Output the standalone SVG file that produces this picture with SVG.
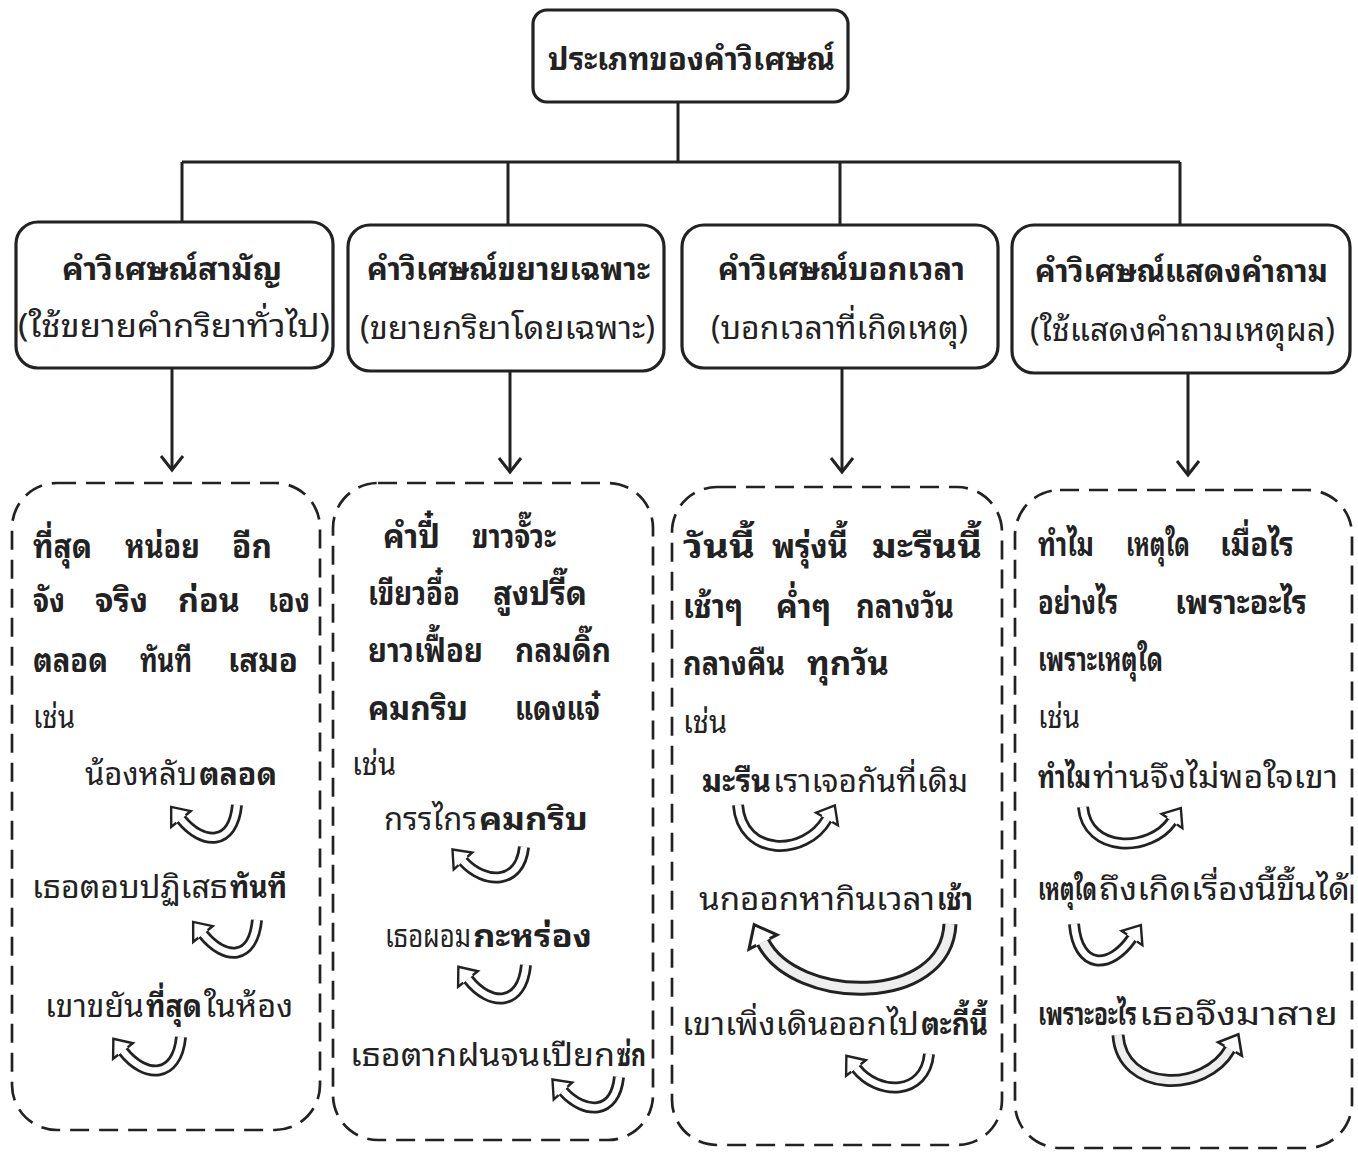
<svg xmlns="http://www.w3.org/2000/svg" width="1358" height="1157" viewBox="0 0 1358 1157">
<style>
.box{fill:#fff;stroke:#222;stroke-width:3.2}
.dbox{fill:none;stroke:#222;stroke-width:2.7;stroke-dasharray:19 10}
.conn{fill:none;stroke:#222;stroke-width:3}
.t{font-family:"Noto Sans Thai Looped","Noto Sans Thai","Noto Sans","DejaVu Sans",sans-serif;fill:#222}
.h{font-size:32px;font-weight:bold}
.s{font-size:32px}
.w{font-size:33px;font-weight:bold}
.r{font-size:31px}
.b{font-weight:bold}
.ao{fill:none;stroke:#222;stroke-width:12}
.ai{fill:none;stroke:#fff;stroke-width:6.5}
.big .ao{stroke-width:15}
.big .ai{stroke-width:9;stroke:#eee}
</style>
<defs>
<marker id="ah" markerUnits="userSpaceOnUse" markerWidth="30" markerHeight="30" refX="0" refY="0" orient="auto" overflow="visible">
<path d="M-14,-11 L0,0 L-14,11" fill="none" stroke="#222" stroke-width="3"/>
</marker>
<marker id="bh" markerUnits="strokeWidth" markerWidth="3" markerHeight="3" refX="0" refY="0" orient="auto" overflow="visible">
<path d="M0,-0.5 L0,-1.05 L1.3,0 L0,1.05 L0,0.5" fill="#fff" stroke="#222" stroke-width="0.2" stroke-linejoin="miter"/>
</marker>
</defs>

<g id="connectors">
<path class="conn" d="M678,102 V162 M182,162 H1180 M182,162 V222 M508,162 V225 M840,162 V225 M1180,162 V225"/>
<path class="conn" d="M172,368 V470" marker-end="url(#ah)"/>
<path class="conn" d="M510,371 V472" marker-end="url(#ah)"/>
<path class="conn" d="M842,368 V472" marker-end="url(#ah)"/>
<path class="conn" d="M1188,373 V475" marker-end="url(#ah)"/>
</g>

<g id="root">
<rect class="box" x="533" y="10" width="315" height="92" rx="14"/>
<text class="t h" x="548" y="70" textLength="287" lengthAdjust="spacingAndGlyphs">ประเภทของคำวิเศษณ์</text>
</g>

<g id="cat1">
<rect class="box" x="16" y="222" width="317" height="146" rx="22"/>
<text class="t h" x="62" y="280" textLength="220" lengthAdjust="spacingAndGlyphs">คำวิเศษณ์สามัญ</text>
<text class="t s" x="18" y="337" textLength="312" lengthAdjust="spacingAndGlyphs">(ใช้ขยายคำกริยาทั่วไป)</text>
</g>
<g id="cat2">
<rect class="box" x="348" y="225" width="316" height="146" rx="22"/>
<text class="t h" x="367" y="280" textLength="283" lengthAdjust="spacingAndGlyphs">คำวิเศษณ์ขยายเฉพาะ</text>
<text class="t s" x="360" y="339" textLength="295" lengthAdjust="spacingAndGlyphs">(ขยายกริยาโดยเฉพาะ)</text>
</g>
<g id="cat3">
<rect class="box" x="682" y="225" width="316" height="143" rx="22"/>
<text class="t h" x="718" y="280" textLength="247" lengthAdjust="spacingAndGlyphs">คำวิเศษณ์บอกเวลา</text>
<text class="t s" x="711" y="339" textLength="257" lengthAdjust="spacingAndGlyphs">(บอกเวลาที่เกิดเหตุ)</text>
</g>
<g id="cat4">
<rect class="box" x="1012" y="225" width="338" height="148" rx="22"/>
<text class="t h" x="1035" y="282" textLength="293" lengthAdjust="spacingAndGlyphs">คำวิเศษณ์แสดงคำถาม</text>
<text class="t s" x="1030" y="341" textLength="305" lengthAdjust="spacingAndGlyphs">(ใช้แสดงคำถามเหตุผล)</text>
</g>

<g id="ex1">
<rect class="dbox" x="12" y="483" width="308" height="647" rx="45"/>
<text class="t w" x="33" y="558" textLength="59" lengthAdjust="spacingAndGlyphs">ที่สุด</text>
<text class="t w" x="125" y="558" textLength="75" lengthAdjust="spacingAndGlyphs">หน่อย</text>
<text class="t w" x="232" y="558" textLength="40" lengthAdjust="spacingAndGlyphs">อีก</text>
<text class="t w" x="33" y="612" textLength="32" lengthAdjust="spacingAndGlyphs">จัง</text>
<text class="t w" x="95" y="612" textLength="53" lengthAdjust="spacingAndGlyphs">จริง</text>
<text class="t w" x="178" y="612" textLength="62" lengthAdjust="spacingAndGlyphs">ก่อน</text>
<text class="t w" x="268" y="612" textLength="42" lengthAdjust="spacingAndGlyphs">เอง</text>
<text class="t w" x="33" y="672" textLength="75" lengthAdjust="spacingAndGlyphs">ตลอด</text>
<text class="t w" x="140" y="672" textLength="52" lengthAdjust="spacingAndGlyphs">ทันที</text>
<text class="t w" x="228" y="672" textLength="70" lengthAdjust="spacingAndGlyphs">เสมอ</text>
<text class="t r" x="33" y="728" textLength="42" lengthAdjust="spacingAndGlyphs">เช่น</text>
<text class="t r" y="785"><tspan x="85" textLength="112" lengthAdjust="spacingAndGlyphs">น้องหลับ</tspan><tspan class="b" x="199" textLength="78" lengthAdjust="spacingAndGlyphs">ตลอด</tspan></text>
<g><path class="ao" d="M237,805 C233,846 203,846 181,819" marker-end="url(#bh)"/><path class="ai" d="M237,805 C233,846 203,846 181,819"/></g>
<text class="t r" y="898"><tspan x="32" textLength="196" lengthAdjust="spacingAndGlyphs">เธอตอบปฏิเสธ</tspan><tspan class="b" x="230" textLength="57" lengthAdjust="spacingAndGlyphs">ทันที</tspan></text>
<g><path class="ao" d="M257,920 C253,961 225,961 203,934" marker-end="url(#bh)"/><path class="ai" d="M257,920 C253,961 225,961 203,934"/></g>
<text class="t r" y="1017"><tspan x="45" textLength="99" lengthAdjust="spacingAndGlyphs">เขาขยัน</tspan><tspan class="b" x="146" textLength="56" lengthAdjust="spacingAndGlyphs">ที่สุด</tspan><tspan x="204" textLength="89" lengthAdjust="spacingAndGlyphs">ในห้อง</tspan></text>
<g><path class="ao" d="M181,1037 C177,1079 145,1079 123,1051" marker-end="url(#bh)"/><path class="ai" d="M181,1037 C177,1079 145,1079 123,1051"/></g>
</g>

<g id="ex2">
<rect class="dbox" x="333" y="483" width="320" height="657" rx="45"/>
<text class="t w" x="383" y="548" textLength="57" lengthAdjust="spacingAndGlyphs">คำปี๋</text>
<text class="t w" x="472" y="548" textLength="84" lengthAdjust="spacingAndGlyphs">ขาวจั๊วะ</text>
<text class="t w" x="368" y="605" textLength="92" lengthAdjust="spacingAndGlyphs">เขียวอื๋อ</text>
<text class="t w" x="493" y="605" textLength="94" lengthAdjust="spacingAndGlyphs">สูงปรี๊ด</text>
<text class="t w" x="368" y="662" textLength="115" lengthAdjust="spacingAndGlyphs">ยาวเฟื้อย</text>
<text class="t w" x="515" y="662" textLength="96" lengthAdjust="spacingAndGlyphs">กลมดิ๊ก</text>
<text class="t w" x="368" y="720" textLength="100" lengthAdjust="spacingAndGlyphs">คมกริบ</text>
<text class="t w" x="515" y="720" textLength="85" lengthAdjust="spacingAndGlyphs">แดงแจ๋</text>
<text class="t r" x="352" y="775" textLength="44" lengthAdjust="spacingAndGlyphs">เช่น</text>
<text class="t r" y="830"><tspan x="384" textLength="93" lengthAdjust="spacingAndGlyphs">กรรไกร</tspan><tspan class="b" x="479" textLength="109" lengthAdjust="spacingAndGlyphs">คมกริบ</tspan></text>
<g><path class="ao" d="M524,847 C520,885 485,885 463,861" marker-end="url(#bh)"/><path class="ai" d="M524,847 C520,885 485,885 463,861"/></g>
<text class="t r" y="947"><tspan x="385" textLength="86" lengthAdjust="spacingAndGlyphs">เธอผอม</tspan><tspan class="b" x="473" textLength="119" lengthAdjust="spacingAndGlyphs">กะหร่อง</tspan></text>
<g><path class="ao" d="M526,965 C522,1007 490,1007 468,979" marker-end="url(#bh)"/><path class="ai" d="M526,965 C522,1007 490,1007 468,979"/></g>
<text class="t r" y="1066"><tspan x="350" textLength="265" lengthAdjust="spacingAndGlyphs">เธอตากฝนจนเปียก</tspan><tspan class="b" x="617" textLength="29" lengthAdjust="spacingAndGlyphs">ซ่ก</tspan></text>
<g><path class="ao" d="M619,1077 C615,1115 585,1115 563,1091" marker-end="url(#bh)"/><path class="ai" d="M619,1077 C615,1115 585,1115 563,1091"/></g>
</g>

<g id="ex3">
<rect class="dbox" x="672" y="487" width="330" height="658" rx="45"/>
<text class="t w" x="683" y="558" textLength="72" lengthAdjust="spacingAndGlyphs">วันนี้</text>
<text class="t w" x="772" y="558" textLength="76" lengthAdjust="spacingAndGlyphs">พรุ่งนี้</text>
<text class="t w" x="872" y="558" textLength="110" lengthAdjust="spacingAndGlyphs">มะรืนนี้</text>
<text class="t w" x="683" y="618" textLength="60" lengthAdjust="spacingAndGlyphs">เช้าๆ</text>
<text class="t w" x="776" y="618" textLength="55" lengthAdjust="spacingAndGlyphs">ค่ำๆ</text>
<text class="t w" x="856" y="618" textLength="98" lengthAdjust="spacingAndGlyphs">กลางวัน</text>
<text class="t w" x="683" y="675" textLength="102" lengthAdjust="spacingAndGlyphs">กลางคืน</text>
<text class="t w" x="807" y="675" textLength="82" lengthAdjust="spacingAndGlyphs">ทุกวัน</text>
<text class="t r" x="683" y="733" textLength="44" lengthAdjust="spacingAndGlyphs">เช่น</text>
<text class="t r" y="792"><tspan class="b" x="702" textLength="69" lengthAdjust="spacingAndGlyphs">มะรืน</tspan><tspan x="773" textLength="195" lengthAdjust="spacingAndGlyphs">เราเจอกันที่เดิม</tspan></text>
<g><path class="ao" d="M738,805 C742,857 805,857 827,819" marker-end="url(#bh)"/><path class="ai" d="M738,805 C742,857 805,857 827,819"/></g>
<text class="t r" y="910"><tspan x="699" textLength="236" lengthAdjust="spacingAndGlyphs">นกออกหากินเวลา</tspan><tspan class="b" x="937" textLength="36" lengthAdjust="spacingAndGlyphs">เช้า</tspan></text>
<g class="big"><path class="ao" d="M950,924 C946,1008 795,1005 763,942" marker-end="url(#bh)"/><path class="ai" d="M950,924 C946,1008 795,1005 763,942"/></g>
<text class="t r" y="1035"><tspan x="682" textLength="237" lengthAdjust="spacingAndGlyphs">เขาเพิ่งเดินออกไป</tspan><tspan class="b" x="921" textLength="67" lengthAdjust="spacingAndGlyphs">ตะกี้นี้</tspan></text>
<g><path class="ao" d="M929,1054 C925,1096 878,1096 856,1068" marker-end="url(#bh)"/><path class="ai" d="M929,1054 C925,1096 878,1096 856,1068"/></g>
</g>

<g id="ex4">
<rect class="dbox" x="1015" y="490" width="337" height="658" rx="45"/>
<text class="t w" x="1038" y="556" textLength="56" lengthAdjust="spacingAndGlyphs">ทำไม</text>
<text class="t w" x="1126" y="556" textLength="64" lengthAdjust="spacingAndGlyphs">เหตุใด</text>
<text class="t w" x="1220" y="556" textLength="74" lengthAdjust="spacingAndGlyphs">เมื่อไร</text>
<text class="t w" x="1038" y="614" textLength="80" lengthAdjust="spacingAndGlyphs">อย่างไร</text>
<text class="t w" x="1175" y="614" textLength="132" lengthAdjust="spacingAndGlyphs">เพราะอะไร</text>
<text class="t w" x="1038" y="671" textLength="125" lengthAdjust="spacingAndGlyphs">เพราะเหตุใด</text>
<text class="t r" x="1038" y="728" textLength="42" lengthAdjust="spacingAndGlyphs">เช่น</text>
<text class="t r" y="788"><tspan class="b" x="1038" textLength="53" lengthAdjust="spacingAndGlyphs">ทำไม</tspan><tspan x="1093" textLength="245" lengthAdjust="spacingAndGlyphs">ท่านจึงไม่พอใจเขา</tspan></text>
<g><path class="ao" d="M1083,807 C1087,853 1150,853 1172,821" marker-end="url(#bh)"/><path class="ai" d="M1083,807 C1087,853 1150,853 1172,821"/></g>
<text class="t r" y="900"><tspan class="b" x="1038" textLength="59" lengthAdjust="spacingAndGlyphs">เหตุใด</tspan><tspan x="1099" textLength="251" lengthAdjust="spacingAndGlyphs">ถึงเกิดเรื่องนี้ขึ้นได้</tspan></text>
<g><path class="ao" d="M1074,924 C1078,970 1110,970 1132,938" marker-end="url(#bh)"/><path class="ai" d="M1074,924 C1078,970 1110,970 1132,938"/></g>
<text class="t r" y="1025"><tspan class="b" x="1038" textLength="99" lengthAdjust="spacingAndGlyphs">เพราะอะไร</tspan><tspan x="1139" textLength="199" lengthAdjust="spacingAndGlyphs">เธอจึงมาสาย</tspan></text>
<g class="big"><path class="ao" style="stroke-width:13" d="M1118,1035 C1122,1093 1205,1093 1230,1049" marker-end="url(#bh)"/><path class="ai" style="stroke-width:7.5" d="M1118,1035 C1122,1093 1205,1093 1230,1049"/></g>
</g>
</svg>
